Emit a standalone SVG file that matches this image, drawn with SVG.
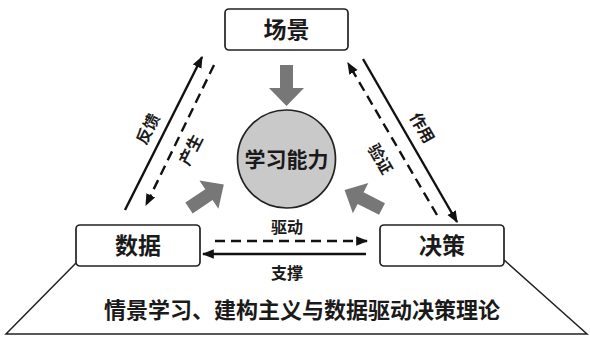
<svg xmlns="http://www.w3.org/2000/svg" width="590" height="340" viewBox="0 0 590 340">
<style>
.box{fill:#fff;stroke:#222;stroke-width:1.7}
.t{font-family:"Noto Sans CJK SC","Noto Sans CJK JP",sans-serif;font-weight:bold;fill:#1a1a1a;text-anchor:middle}
.big{font-size:23px}
.lbl{font-size:16px}
.ln{stroke:#111;stroke-width:2.4;fill:none}
.dash{stroke-dasharray:10 6}
.g{fill:#777}
</style>
<defs>
<marker id="ah" viewBox="0 0 10 8" refX="9" refY="4" markerWidth="12" markerHeight="10" markerUnits="userSpaceOnUse" orient="auto">
<path d="M0,0 L10,4 L0,8 z" fill="#111"/>
</marker>
<path id="garrow" d="M0,-6.5 L24,-6.5 L24,-17 L42,0 L24,17 L24,6.5 L0,6.5 z"/>
</defs>
<rect width="590" height="340" fill="#fff"/>
<g id="foundation">
<path d="M77,262 L6,334 L587,334 L503,259" fill="none" stroke="#222" stroke-width="1.5"/>
<text class="t" style="font-size:22px" x="302" y="318">情景学习、建构主义与数据驱动决策理论</text>
</g>
<g id="connectors">
<line class="ln" x1="125" y1="210" x2="202" y2="57" marker-end="url(#ah)"/>
<line class="ln dash" x1="214" y1="65" x2="146" y2="205" marker-end="url(#ah)"/>
<line class="ln" x1="363" y1="59" x2="457" y2="222" marker-end="url(#ah)"/>
<line class="ln dash" x1="437" y1="215" x2="348" y2="63" marker-end="url(#ah)"/>
<line class="ln dash" x1="215" y1="241" x2="367" y2="241" marker-end="url(#ah)"/>
<line class="ln" x1="366" y1="254" x2="203" y2="254" marker-end="url(#ah)"/>
<path class="g" d="M280,65 L293,65 L293,88 L304,88 L286.5,106 L269,88 L280,88 z"/>
<use href="#garrow" class="g" transform="translate(189,208) rotate(-34)"/>
<use href="#garrow" class="g" transform="translate(382,209) rotate(-153)"/>
<text class="t lbl" transform="translate(148,129) rotate(-63)" y="5.5">反馈</text>
<text class="t lbl" transform="translate(191,150) rotate(-63)" y="5.5">产生</text>
<text class="t lbl" transform="translate(422,128) rotate(60)" y="5.5">作用</text>
<text class="t lbl" transform="translate(380,159) rotate(60)" y="5.5">验证</text>
<text class="t lbl" x="287" y="233">驱动</text>
<text class="t lbl" x="287" y="279">支撑</text>
</g>
<g id="node-scene">
<rect class="box" x="225" y="9" width="123" height="41" rx="4"/>
<text class="t big" x="286.5" y="38">场景</text>
</g>
<g id="node-data">
<rect class="box" x="76" y="225" width="124" height="41" rx="4"/>
<text class="t big" x="138" y="254">数据</text>
</g>
<g id="node-decision">
<rect class="box" x="380" y="225" width="124" height="41" rx="4"/>
<text class="t big" x="442" y="254">决策</text>
</g>
<g id="node-learning">
<circle cx="286.5" cy="159" r="49" fill="#c9c9c9" stroke="#222" stroke-width="1.7"/>
<text class="t" style="font-size:21px" x="286.5" y="166.5">学习能力</text>
</g>
</svg>
